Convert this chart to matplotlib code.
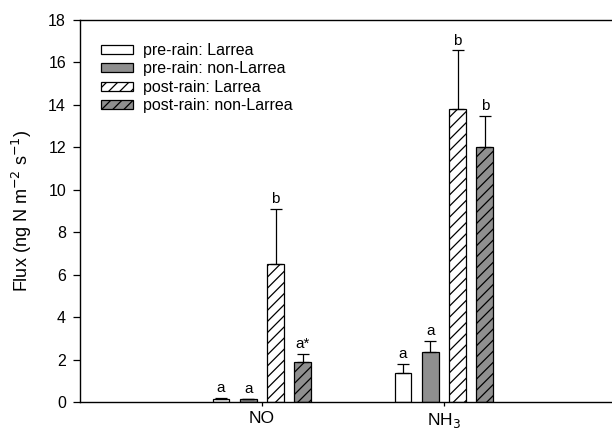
import numpy as np
import matplotlib
matplotlib.use("Agg")
import matplotlib.pyplot as plt

plt.rcParams['font.family'] = ['Liberation Sans', 'DejaVu Sans']
plt.rcParams['hatch.linewidth'] = 0.9

# data
gases = ["NO", "NH$_3$"]
series = ["pre-rain: Larrea", "pre-rain: non-Larrea",
          "post-rain: Larrea", "post-rain: non-Larrea"]
means = [[0.17, 1.40],
         [0.15, 2.38],
         [6.50, 13.80],
         [1.90, 12.00]]
errs = [[0.04, 0.42],
        [0.03, 0.52],
        [2.62, 2.78],
        [0.40, 1.50]]
letters = [["a", "a"], ["a", "a"], ["b", "b"], ["a*", "b"]]

faces = ["white", "#8f8f8f", "white", "#8f8f8f"]
hatches = [None, None, "///", "///"]

fig = plt.figure(figsize=(6.12, 4.29), dpi=100)
ax = fig.add_axes([0.1307, 0.0618, 0.892, 0.8916])

x = np.array([1.0, 2.0])
step = 0.15
width = 0.093
for i in range(4):
    pos = x + (i - 1.5) * step
    ax.bar(pos, means[i], width, color=faces[i], edgecolor="black",
           linewidth=0.9, hatch=hatches[i], label=series[i], zorder=2)
    ax.errorbar(pos, means[i], yerr=[np.zeros(2), errs[i]], fmt="none",
                ecolor="black", elinewidth=0.9, capsize=4.5, capthick=0.9,
                zorder=3)
    for j in range(2):
        ax.annotate(letters[i][j], (pos[j], means[i][j] + errs[i][j]),
                    xytext=(0, 4), textcoords="offset points",
                    ha="center", va="baseline", fontsize=11)

ax.set_xlim(0, 3)
ax.set_ylim(0, 18)
ax.set_yticks(np.arange(0, 19, 2))
ax.set_xticks(x)
ax.set_xticklabels(gases, fontsize=12.5)
ax.tick_params(axis="y", labelsize=11.5, direction="out", length=5, width=0.9,
               pad=5)
ax.tick_params(axis="x", direction="out", length=3, width=0.9, pad=3)
for s in ax.spines.values():
    s.set_linewidth(1.0)
ax.set_ylabel("Flux (ng N m$^{-2}$ s$^{-1}$)", fontsize=13, labelpad=10)

leg = ax.legend(loc="upper left", bbox_to_anchor=(0.027, 0.957), frameon=False,
                fontsize=11.5, handlelength=2.0, handleheight=0.5,
                labelspacing=0.22, handletextpad=0.6, borderaxespad=0)

fig.savefig("out.png", dpi=100)
